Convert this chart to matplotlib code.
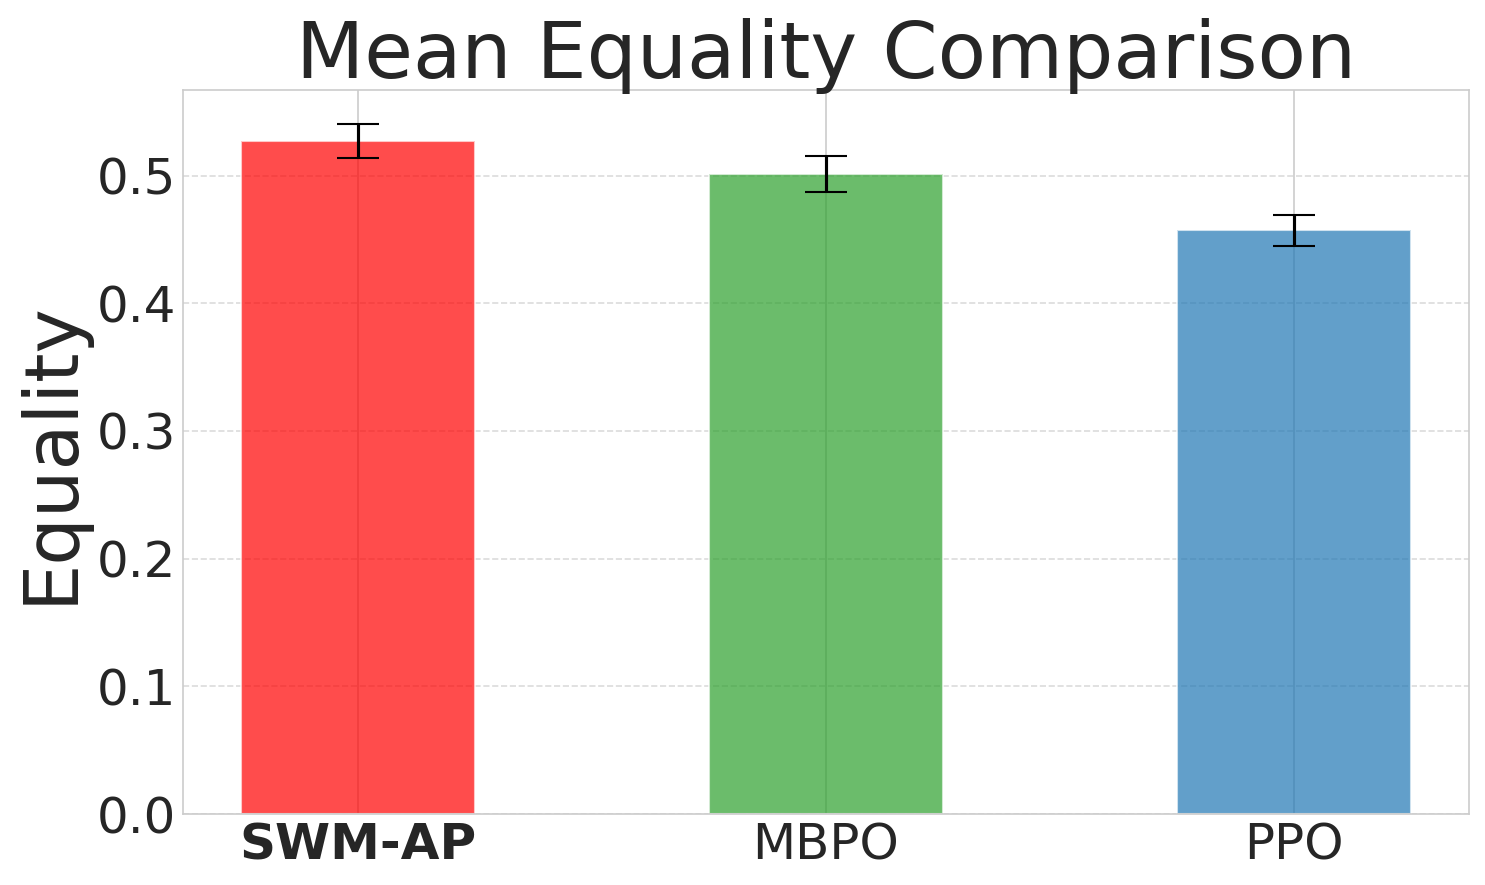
import matplotlib
matplotlib.use('Agg')
import matplotlib.pyplot as plt
import seaborn as sns

methods = ['SWM-AP', 'MBPO', 'PPO']
mean_equality = [0.527, 0.501, 0.457]
std_equality = [0.013, 0.014, 0.012]
colors = ['red', '#2ca02c', '#1f77b4']

sns.set_style('whitegrid')

fig = plt.figure(figsize=(9.9, 5.9), dpi=150)
ax = fig.add_axes([0.1232, 0.0802, 0.866, 0.8181])

ax.bar(methods, mean_equality, yerr=std_equality, color=colors, alpha=0.7,
       width=0.5, capsize=10, ecolor='black')
ax.grid(axis='y', linestyle='--', alpha=0.7)

ax.set_title('Mean Equality Comparison', fontsize=38)
ax.set_ylabel('Equality', fontsize=36)
ax.tick_params(axis='both', labelsize=24, length=0)
ax.get_xticklabels()[0].set_fontweight('bold')

fig.savefig('out.png', dpi=150)
